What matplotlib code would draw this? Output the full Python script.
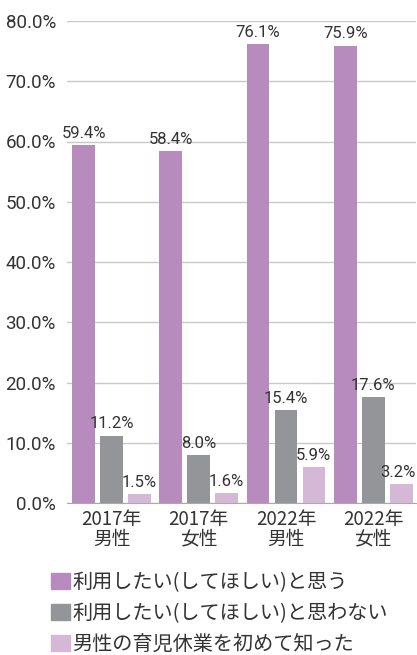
import numpy as np
import matplotlib
matplotlib.use("Agg")
import matplotlib.pyplot as plt
from matplotlib.patches import Patch

plt.rcParams['font.family'] = ['Roboto', 'Noto Sans CJK JP', 'DejaVu Sans']

categories = ["2017年\n男性", "2017年\n女性", "2022年\n男性", "2022年\n女性"]
series_names = ["利用したい(してほしい)と思う",
                "利用したい(してほしい)と思わない",
                "男性の育児休業を初めて知った"]
want = [59.4, 58.4, 76.1, 75.9]
not_want = [11.2, 8.0, 15.4, 17.6]
first_time = [1.5, 1.6, 5.9, 3.2]
colors = ["#B88BBF", "#939598", "#D4B8D6"]

fig = plt.figure(figsize=(4.17, 6.55), dpi=100)
ax = fig.add_axes([67 / 417, 152 / 655, 349 / 417, 482 / 655])

x = np.arange(len(categories))
step = 0.32
width = 0.26
xmax = 3.49
for k, vals in enumerate([want, not_want, first_time]):
    bars = ax.bar(x + (k - 1) * step, vals, width, color=colors[k], zorder=3)
    for b, v in zip(bars, vals):
        cx = b.get_x() + b.get_width() / 2
        ha = 'center'
        # keep the rightmost label inside the figure
        if cx + 0.2 > xmax:
            cx, ha = xmax - 0.005, 'right'
        ax.text(cx, v + 0.7, f"{v:.1f}%", ha=ha, va='bottom',
                fontsize=12, color='#333333', clip_on=False)

ax.set_xlim(-0.51, xmax)
ax.set_ylim(0, 80)
ax.set_yticks(np.arange(0, 81, 10))
ax.set_yticklabels([f"{t:.1f}%" for t in np.arange(0, 81, 10)], fontsize=13.5, color='#333333')
ax.set_xticks(x)
ax.set_xticklabels(categories, fontsize=13.5, color='#333333',
                   family=['Noto Sans CJK JP'], linespacing=0.95)
ax.yaxis.grid(True, color='#c8c8c8', linewidth=1, zorder=0)
ax.tick_params(axis='y', length=0, pad=8)
ax.tick_params(axis='x', length=0, pad=4)
for s in ['top', 'right', 'left']:
    ax.spines[s].set_visible(False)
ax.spines['bottom'].set_color('#aaaaaa')

handles = [Patch(color=c) for c in colors]
leg = fig.legend(handles, series_names, loc='upper left',
                 bbox_to_anchor=(41 / 417, 1 - 562 / 655), frameon=False,
                 handlelength=0.95, handleheight=0.85, handletextpad=0.1,
                 labelspacing=0.5, borderpad=0,
                 prop={'family': ['Noto Sans CJK JP'], 'size': 14.5})
for t in leg.get_texts():
    t.set_color('#333333')

fig.savefig("out.png", dpi=100)
